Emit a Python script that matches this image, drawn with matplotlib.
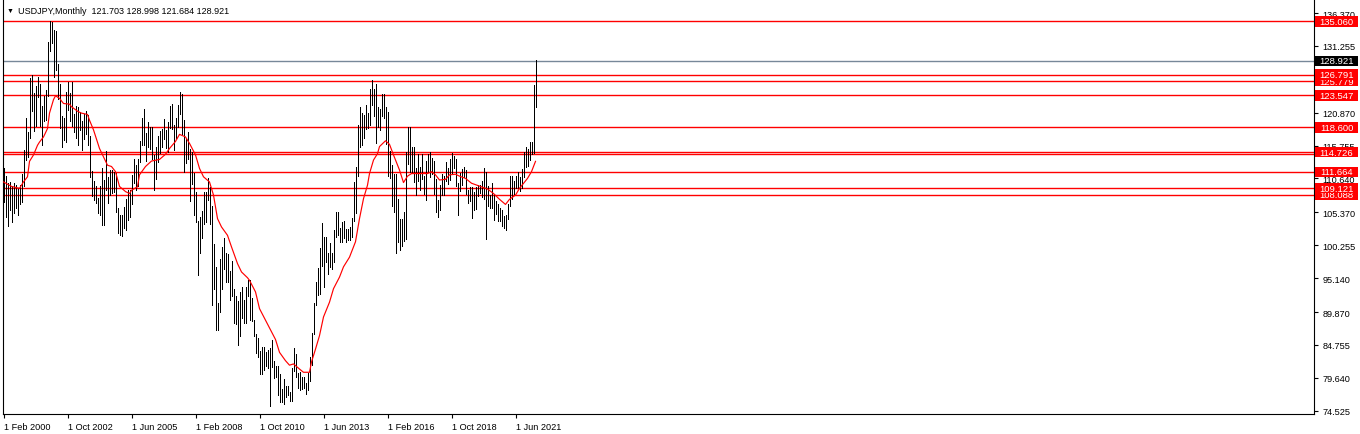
import numpy as np
import pandas as pd
import matplotlib
matplotlib.use("Agg")
from matplotlib import pyplot as plt
from matplotlib.patches import Rectangle
from matplotlib.transforms import blended_transform_factory

plt.rcParams['font.family'] = ['Liberation Sans', 'DejaVu Sans']

# monthly bars, Feb 2000 .. Apr 2022
months = pd.period_range('2000-02', '2022-04', freq='M')

highs = [
    112.2, 111.1, 109.9, 110.1, 109.4, 109.9, 109.6, 109.1, 109.6, 111.4, 115.1,
    120.0, 117.9, 126.3, 126.8, 124.0, 125.0, 126.4, 125.3, 121.9, 123.5, 124.4, 131.8,
    135.2, 135.0, 133.8, 133.5, 128.5, 125.3, 120.3, 120.0, 124.1, 125.6, 124.0, 125.7,
    120.7, 121.9, 121.8, 121.0, 119.5, 120.6, 121.2, 120.5, 117.3, 111.8, 110.2, 109.5,
    107.6, 109.5, 112.2, 110.4, 114.9, 110.9, 112.0, 111.9, 111.6, 111.5, 106.0, 105.0,
    104.9, 106.2, 107.5, 108.8, 108.9, 111.2, 113.7, 112.8, 113.7, 116.4, 120.0, 121.4,
    117.7, 119.4, 118.6, 118.7, 114.3, 115.5, 117.3, 118.0, 118.3, 119.9, 118.2, 119.4,
    121.9, 122.2, 119.0, 120.0, 122.0, 124.1, 123.7, 119.8, 117.0, 117.9, 115.3, 114.7,
    111.5, 108.6, 104.1, 104.6, 105.6, 108.6, 108.6, 110.7, 109.3, 106.3, 100.5, 96.9,
    91.3, 98.1, 100.0, 101.4, 99.1, 98.9, 96.3, 97.8, 93.4, 92.3, 91.6, 93.0,
    93.8, 91.8, 93.8, 94.8, 94.9, 92.0, 88.6, 86.5, 85.9, 83.8, 84.4, 84.5,
    83.7, 84.0, 84.2, 85.5, 82.2, 81.5, 81.4, 80.2, 77.9, 79.5, 78.3, 78.3,
    77.4, 81.2, 84.2, 83.3, 80.4, 80.6, 79.8, 79.7, 78.9, 80.4, 82.8, 86.6,
    91.3, 94.5, 96.7, 99.9, 103.7, 101.5, 101.5, 99.1, 100.6, 99.0, 102.6, 105.4,
    105.4, 103.0, 103.8, 104.1, 102.8, 102.8, 103.1, 104.5, 110.1, 112.5, 119.0, 121.8,
    120.8, 120.5, 122.0, 120.8, 124.5, 125.9, 124.6, 125.3, 121.7, 121.5, 123.8, 123.7,
    121.7, 121.0, 114.9, 112.7, 111.4, 111.4, 107.5, 104.3, 104.3, 105.5, 114.8, 118.7,
    118.6, 115.6, 115.5, 112.2, 114.4, 112.4, 114.5, 111.0, 113.3, 114.5, 114.7, 113.8,
    113.4, 110.5, 107.3, 109.6, 111.4, 111.0, 113.2, 112.2, 113.7, 114.6, 114.2, 113.7,
    109.9, 111.5, 112.1, 112.4, 112.0, 108.8, 109.3, 109.3, 108.5, 109.3, 109.7, 109.7,
    110.3, 112.2, 111.7, 109.4, 108.1, 109.9, 108.2, 107.1, 106.6, 106.1, 105.7, 104.8,
    105.0, 106.7, 111.0, 110.96, 110.2, 111.1, 111.65, 110.8, 112.1, 114.7, 115.5, 115.2,
    116.35, 116.3, 125.1, 128.998,
]

lows = [
    107.0, 104.7, 103.2, 105.7, 103.9, 105.2, 106.0, 104.9, 106.7, 107.0, 109.4,
    113.5, 114.0, 117.0, 121.2, 118.0, 118.8, 123.3, 118.8, 115.8, 119.5, 119.7, 123.5,
    130.5, 131.7, 126.4, 127.5, 123.0, 118.5, 115.5, 116.6, 116.3, 121.3, 119.5, 118.8,
    117.8, 117.0, 115.9, 118.2, 115.0, 116.8, 117.5, 115.8, 110.8, 107.9, 107.3, 106.9,
    105.3, 104.9, 103.4, 103.4, 108.9, 106.8, 108.1, 108.4, 108.5, 105.4, 102.1, 101.8,
    101.7, 103.0, 102.7, 104.2, 104.6, 106.6, 109.9, 108.9, 109.4, 113.2, 115.9, 115.8,
    113.4, 115.6, 115.3, 113.7, 108.9, 110.6, 113.2, 114.6, 115.6, 116.8, 115.4, 114.8,
    118.5, 118.3, 115.1, 117.0, 118.6, 120.6, 117.6, 111.6, 113.0, 113.6, 107.2, 109.8,
    104.9, 103.9, 95.7, 99.0, 101.4, 103.6, 103.8, 107.3, 103.5, 90.9, 93.5, 87.1,
    87.1, 89.8, 93.5, 96.5, 94.5, 94.5, 91.7, 92.3, 88.2, 88.0, 84.8, 86.1,
    89.0, 88.1, 88.1, 92.3, 88.6, 88.4, 86.2, 83.5, 82.9, 80.2, 80.3, 80.9,
    81.4, 81.1, 75.3, 81.3, 79.6, 79.7, 76.9, 75.9, 75.9, 75.6, 76.6, 76.9,
    76.0, 76.1, 80.7, 79.8, 78.0, 77.7, 77.9, 78.1, 77.1, 77.8, 79.1, 81.7,
    86.5, 90.9, 92.5, 92.6, 97.1, 93.8, 97.6, 95.8, 96.9, 96.6, 97.6, 101.6,
    101.8, 100.8, 100.8, 101.4, 100.8, 101.1, 101.1, 101.5, 104.0, 105.2, 111.0, 115.6,
    115.9, 116.9, 118.3, 118.5, 118.9, 122.0, 120.4, 116.2, 118.6, 118.1, 120.3, 120.0,
    116.0, 111.0, 110.7, 106.3, 105.5, 99.0, 100.7, 99.5, 100.1, 100.9, 101.2, 112.9,
    111.6, 111.6, 110.1, 108.1, 110.2, 108.8, 110.6, 108.3, 107.3, 111.7, 110.8, 111.4,
    108.3, 105.5, 104.6, 105.7, 108.1, 108.1, 110.3, 109.8, 110.4, 111.4, 112.3, 109.5,
    104.9, 108.7, 109.7, 110.8, 108.3, 106.8, 107.2, 104.5, 105.7, 105.9, 107.9, 108.4,
    107.7, 107.5, 101.2, 106.4, 106.0, 106.1, 104.2, 105.1, 104.0, 104.0, 103.2, 102.9,
    102.6, 104.4, 106.4, 107.5, 108.3, 109.2, 109.1, 108.7, 109.1, 110.8, 112.5, 112.6,
    113.5, 114.4, 114.65, 121.684,
]

# moving average
ma_dates = [
    '2000-02', '2000-06', '2000-10', '2000-12',
    '2001-02', '2001-03', '2001-05', '2001-07', '2001-08', '2001-10', '2001-12',
    '2002-01', '2002-03', '2002-04', '2002-06', '2002-08', '2002-11', '2002-12',
    '2003-03', '2003-05', '2003-08', '2003-09', '2003-11',
    '2004-02', '2004-04', '2004-06', '2004-08', '2004-10', '2004-12',
    '2005-03', '2005-05', '2005-06', '2005-09', '2005-10',
    '2006-01', '2006-04', '2006-08', '2006-11',
    '2007-01', '2007-04', '2007-06', '2007-09', '2007-11',
    '2008-02', '2008-04', '2008-06', '2008-09', '2008-11',
    '2009-01', '2009-03', '2009-06', '2009-08', '2009-11',
    '2010-01', '2010-04', '2010-05', '2010-08', '2010-10',
    '2011-02', '2011-04', '2011-06', '2011-08', '2011-11',
    '2012-01', '2012-03', '2012-06', '2012-08', '2012-11', '2012-12',
    '2013-02', '2013-04', '2013-06', '2013-09', '2013-11',
    '2014-02', '2014-04', '2014-07', '2014-10', '2014-12',
    '2015-02', '2015-04', '2015-05', '2015-07', '2015-09', '2015-10',
    '2016-01', '2016-03', '2016-05', '2016-08', '2016-10', '2016-12',
    '2017-02', '2017-10', '2017-12',
    '2018-02', '2018-04', '2018-07', '2018-09', '2018-12',
    '2019-02', '2019-05', '2019-08', '2019-12',
    '2020-04', '2020-07', '2020-10',
    '2021-01', '2021-03', '2021-06', '2021-08', '2021-12',
    '2022-02', '2022-04',
]
ma_values = [
    110.1, 109.4, 109.1, 110.1,
    110.9, 113.3, 114.3, 115.8, 116.3, 117.1, 118.4,
    120.8, 122.9, 123.5, 123.1, 122.3, 122.2, 121.8,
    121.1, 120.8, 120.6, 119.7, 118.2,
    115.3, 114.0, 112.7, 112.5, 111.7, 109.4,
    108.6, 108.3, 108.8, 109.35, 111.2,
    112.5, 113.35, 113.6, 114.4,
    115.3, 116.4, 117.5, 117.1, 116.1,
    114.3, 112.2, 110.9, 110.1, 108.05,
    104.4, 103.1, 101.8, 100.0, 97.4,
    96.1, 95.2, 94.8, 93.0, 90.4,
    88.0, 86.8, 85.6, 83.6, 82.3,
    81.6, 81.8, 81.0, 80.5, 80.5, 82.1,
    84.1, 86.2, 89.1, 91.4, 93.5,
    95.3, 96.9, 98.4, 100.8, 104.4,
    107.5, 109.6, 111.4, 113.5, 114.5, 115.6,
    116.5, 115.95, 114.3, 111.95, 110.0, 111.0,
    111.4, 111.4, 111.7,
    111.2, 110.4, 110.5, 111.2, 111.3,
    111.0, 110.65, 109.9, 109.45,
    109.0, 108.3, 107.4,
    106.6, 107.4, 108.05, 109.1, 110.65,
    111.7, 113.3,
]

# horizontal levels (red), drawn low to high so higher labels sit on top
levels = [108.088, 109.121, 111.664, 114.726, 118.600, 123.547, 125.779, 126.791, 135.060]
extra_levels = [114.45]
current_price = 128.921

price_ticks = [136.370, 131.255, 126.140, 120.870, 115.755, 110.640, 105.370,
               100.255, 95.140, 89.870, 84.755, 79.640, 74.525]

title = "USDJPY,Monthly  121.703 128.998 121.684 128.921"

assert len(highs) == len(months) and len(lows) == len(months)
assert len(ma_dates) == len(ma_values)

W, H = 1360, 435
PX = 72 / 100  # one pixel in points
fig = plt.figure(figsize=(W / 100, H / 100), dpi=100)
ax = fig.add_axes([2.5 / W, 20 / H, (1314 - 2.5) / W, 415 / H])

x = np.arange(len(months))
ax.vlines(x, lows, highs, color='black', linewidth=PX, antialiased=False, zorder=3)

ma_x = [months.get_loc(pd.Period(d, freq='M')) for d in ma_dates]
ax.plot(ma_x, ma_values, color='red', linewidth=0.85, zorder=4)

for lv in levels + extra_levels:
    ax.axhline(lv, color='#ff0000', linewidth=1.0, snap=True, zorder=2)
ax.axhline(current_price, color='#778899', linewidth=1.0, snap=True, zorder=2)

ax.set_xlim(-0.5, 655.25)
ax.set_ylim(74.01, 138.55)

ax.spines['top'].set_visible(False)
for s in ['left', 'bottom', 'right']:
    ax.spines[s].set_linewidth(0.8)
    ax.spines[s].set_color('black')

ax.yaxis.tick_right()
ax.set_yticks(price_ticks)
ax.set_yticklabels([f"{t:.3f}" for t in price_ticks])
ax.tick_params(axis='y', direction='out', length=3, width=0.8, pad=3,
               labelsize=6.6, colors='black')

tick_pos = list(range(0, len(months), 32))
ax.set_xticks(tick_pos)
ax.set_xticklabels([f"1 {months[i].strftime('%b %Y')}" for i in tick_pos])
ax.tick_params(axis='x', direction='out', length=3, width=0.8, pad=3,
               labelsize=6.6, colors='black')
for lbl in ax.get_xticklabels():
    lbl.set_horizontalalignment('left')

# price labels on the right scale
trans = blended_transform_factory(fig.transFigure, ax.transData)
box_h = 10.5 / 6.43
bx, bw = 1315 / W, 43 / W


def price_box(lv, face, z):
    ax.add_patch(Rectangle((bx, lv - box_h / 2), bw, box_h, transform=trans,
                           facecolor=face, edgecolor='none', clip_on=False, zorder=z))
    ax.text(bx + bw / 2, lv, f"{lv:.3f}", transform=trans, ha='center',
            va='center', color='white', fontsize=6.8, clip_on=False, zorder=z + 0.5)


for i, lv in enumerate(levels):
    price_box(lv, '#ff0000', 10 + i)
price_box(current_price, 'black', 30)

fig.text(7 / W, 1 - 11 / H, "\u25bc", fontsize=5, ha='left', va='center', color='black')
fig.text(18 / W, 1 - 11 / H, title, fontsize=6.5, ha='left', va='center', color='black')

fig.savefig('out.png', dpi=100)
